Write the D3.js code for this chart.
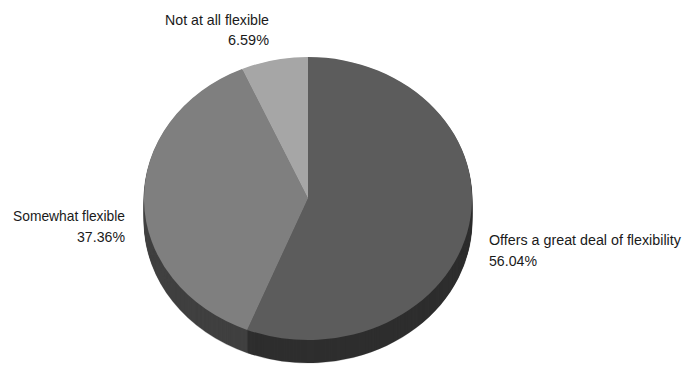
<!DOCTYPE html>
<html><head><meta charset="utf-8">
<script src="https://cdn.jsdelivr.net/npm/d3@7"></script>
<style>html,body{margin:0;background:#fff}svg{display:block}
text{font-family:"Liberation Sans",Arial,sans-serif;font-size:15px;fill:#1a1a1a}</style>
</head><body><svg id="c" width="685" height="365"></svg>
<script>
const categories=["Offers a great deal of flexibility","Somewhat flexible","Not at all flexible"];
const values=[56.04,37.36,6.59];
const labelsPct=["56.04%","37.36%","6.59%"];
const topColors=["#5c5c5c","#7f7f7f","#a6a6a6"];
const sideColors=["#2e2e2e","#404040","#535353"];
const svg=d3.select("#c");
const cx=308,cy=198.5,rx=164,ry=141.5,depth=23;
const pie=d3.pie().sort(null).value(d=>d)(values);
const arc=d3.arc().innerRadius(0).outerRadius(rx);
const g=svg.append("g");
d3.range(depth,0,-1).forEach(dy=>{
  g.append("g").attr("transform",`translate(${cx},${cy+dy}) scale(1,${ry/rx})`)
   .selectAll("path").data(pie).join("path").attr("d",arc)
   .attr("fill",(d,i)=>sideColors[i]).attr("stroke",(d,i)=>sideColors[i]).attr("stroke-width",0.3);
});
g.append("g").attr("transform",`translate(${cx},${cy}) scale(1,${ry/rx})`)
 .selectAll("path").data(pie).join("path").attr("d",arc)
 .attr("fill",(d,i)=>topColors[i]);
const labelPos=[
 {x:489,y:245,a:"start",w1:192,w2:48},
 {x:125,y:221,a:"end",w1:112,w2:48},
 {x:269,y:24.5,a:"end",w1:104,w2:41}];
function put(str,x,y,a,w){
  const t=svg.append("text").attr("text-anchor",a).text(str);
  const sx=w/t.node().getComputedTextLength();
  t.attr("transform",`translate(${x},${y}) scale(${sx},1)`);
}
labelPos.forEach((p,i)=>{
  put(categories[i],p.x,p.y,p.a,p.w1);
  put(labelsPct[i],p.x,p.y+20.5,p.a,p.w2);
});
</script></body></html>
